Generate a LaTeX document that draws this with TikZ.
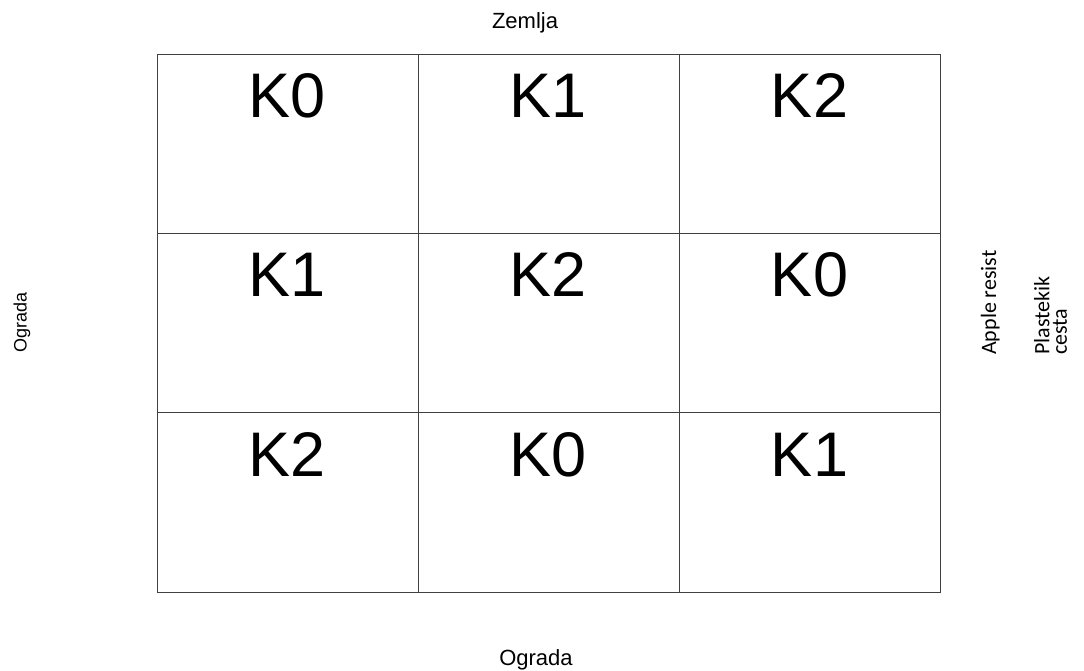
\documentclass[tikz,border=0pt]{standalone}
\usepackage{fontspec}
\setmainfont{Liberation Sans}
\newfontfamily\calibrifont{Carlito}
\begin{document}
\begin{tikzpicture}[x=1pt,y=-1pt]
	\tikzstyle{cell}=[rectangle, draw=black!75, line width=0.9pt, minimum width=261pt, minimum height=179.3pt, inner sep=0pt]
	\tikzstyle{kod}=[anchor=base, inner sep=0pt, font=\fontsize{63}{70}\selectfont]
	\tikzstyle{strana}=[inner sep=0pt, font=\fontsize{22}{26}\selectfont]

	\useasboundingbox (0,0) rectangle (1084,670);

	% POLJA
	\node[cell] (C00) at (287.5,143.7) {};
	\node[cell] (C01) at (548.5,143.7) {};
	\node[cell] (C02) at (809.5,143.7) {};
	\node[cell] (C10) at (287.5,323) {};
	\node[cell] (C11) at (548.5,323) {};
	\node[cell] (C12) at (809.5,323) {};
	\node[cell] (C20) at (287.5,502.3) {};
	\node[cell] (C21) at (548.5,502.3) {};
	\node[cell] (C22) at (809.5,502.3) {};

	% OZNAKE
	\node[kod] (K00) at ([yshift=-64pt]C00.north) {K0};
	\node[kod] (K01) at ([yshift=-64pt]C01.north) {K1};
	\node[kod] (K02) at ([yshift=-64pt]C02.north) {K2};
	\node[kod] (K10) at ([yshift=-64pt]C10.north) {K1};
	\node[kod] (K11) at ([yshift=-64pt]C11.north) {K2};
	\node[kod] (K12) at ([yshift=-64pt]C12.north) {K0};
	\node[kod] (K20) at ([yshift=-64pt]C20.north) {K2};
	\node[kod] (K21) at ([yshift=-64pt]C21.north) {K0};
	\node[kod] (K22) at ([yshift=-64pt]C22.north) {K1};

	% STRANE
	\node[strana, anchor=base] (zemlja) at (525,28) {Zemlja};
	\node[strana, anchor=base] (ogradaB) at (536,665) {Ograda};
	\node[strana, rotate=90, font=\fontsize{18}{22}\selectfont] (ogradaL) at (22,322) {Ograda};
	\node[strana, rotate=90, anchor=base west, font=\calibrifont\fontsize{22}{26}\selectfont] (apple) at (996,355) {Apple resist};
	\node[strana, rotate=90, anchor=north west, align=left, font=\calibrifont\fontsize{22}{17.5}\selectfont] (plast) at (1034,355) {Plastekik\\cesta};
\end{tikzpicture}
\end{document}
